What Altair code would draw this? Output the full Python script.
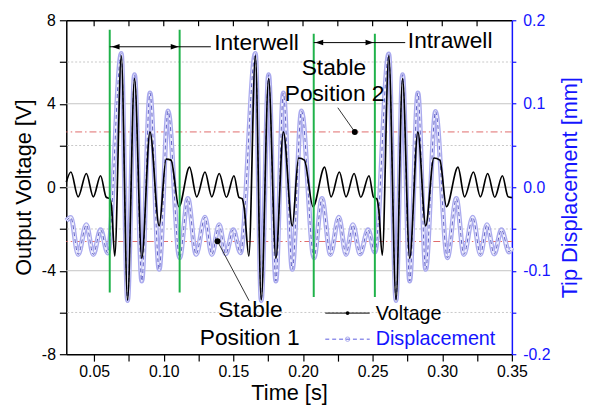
import altair as alt
import pandas as pd

# ---------------- data ----------------
time_ticks = [0.05, 0.075, 0.10, 0.125, 0.15, 0.175, 0.20, 0.225, 0.25, 0.275, 0.30, 0.325, 0.35]
volt_ticks = [-8, -6, -4, -2, 0, 2, 4, 6, 8]
disp_ticks = [-0.2, -0.15, -0.1, -0.05, 0.0, 0.05, 0.1, 0.15, 0.2]

# tip displacement (mm): extrema
disp_time = [0.0300, 0.0333, 0.0385, 0.0444, 0.0494, 0.0546, 0.0598,
             0.0695, 0.0740, 0.0790, 0.0842, 0.0901, 0.0967, 0.1031, 0.1114,
             0.1173, 0.1232, 0.1296, 0.1345, 0.1398, 0.1445, 0.1499, 0.1551,
             0.1658, 0.1700, 0.1753, 0.1805, 0.1859, 0.1923, 0.1989, 0.2079,
             0.2136, 0.2197, 0.2257, 0.2309, 0.2358, 0.2410, 0.2467, 0.2516,
             0.2616, 0.2668, 0.2715, 0.2766, 0.2825, 0.2881, 0.2952, 0.3037,
             0.3101, 0.3155, 0.3219, 0.3274, 0.3321, 0.3373, 0.3425, 0.3480, 0.3500]
disp_mm = [-0.0400, -0.0363, -0.0805, -0.0450, -0.0805, -0.0510, -0.0788,
           0.1603, -0.1358, 0.1348, -0.1123, 0.1130, -0.0983, 0.0913, -0.0845,
           -0.0135, -0.0805, -0.0360, -0.0805, -0.0450, -0.0800, -0.0510, -0.0785,
           0.1603, -0.1358, 0.1348, -0.1123, 0.1130, -0.0983, 0.0913, -0.0845,
           -0.0135, -0.0805, -0.0360, -0.0805, -0.0450, -0.0800, -0.0510, -0.0775,
           0.1595, -0.1358, 0.1348, -0.1123, 0.1130, -0.0983, 0.0908, -0.0845,
           -0.0135, -0.0805, -0.0360, -0.0805, -0.0450, -0.0800, -0.0510, -0.0775, -0.0725]

# output voltage (V): extrema
volt_time = [0.0300, 0.0333, 0.0385, 0.0444, 0.0494, 0.0546, 0.0587, 0.0612, 0.0626, 0.0648,
             0.0695, 0.0740, 0.0790, 0.0842, 0.0901, 0.0967, 0.1017, 0.1052, 0.1109,
             0.1185, 0.1237, 0.1296, 0.1345, 0.1398, 0.1450, 0.1504, 0.1540, 0.1563, 0.1578, 0.1611,
             0.1658, 0.1700, 0.1753, 0.1805, 0.1859, 0.1923, 0.1968, 0.2010, 0.2072,
             0.2155, 0.2202, 0.2261, 0.2309, 0.2367, 0.2415, 0.2474, 0.2507, 0.2529, 0.2543, 0.2569,
             0.2616, 0.2668, 0.2715, 0.2766, 0.2825, 0.2881, 0.2940, 0.2983, 0.3030,
             0.3113, 0.3160, 0.3224, 0.3274, 0.3326, 0.3377, 0.3432, 0.3472, 0.3500]
volt_v = [0.25, 0.73, -0.46, 0.66, -0.46, 0.55, -0.48, -0.55, -1.00, -3.30,
          6.30, -5.40, 5.20, -3.40, 2.65, -1.85, 1.35, 1.30, -0.93,
          0.96, -0.46, 0.73, -0.46, 0.66, -0.48, 0.55, -0.48, -0.55, -1.00, -3.30,
          6.30, -5.40, 5.20, -3.40, 2.65, -1.85, 1.40, 1.30, -0.93,
          0.96, -0.46, 0.73, -0.46, 0.66, -0.48, 0.55, -0.48, -0.55, -1.00, -3.25,
          6.30, -5.40, 5.20, -3.40, 2.65, -1.85, 1.40, 1.30, -0.93,
          0.96, -0.46, 0.73, -0.46, 0.66, -0.48, 0.55, -0.45, -0.50]

grid_major = [-4, 0, 4]
grid_minor = [-6, -2, 2, 6]
stable_levels = [2.65, -2.6]

green_time = [0.0612, 0.1114, 0.2077, 0.2516]
green_top = [7.55, 7.55, 7.36, 7.36]
green_bottom = [-5.04, -5.04, -5.26, -5.26]

arrow_start = [0.0612, 0.2077]
arrow_end = [0.1338, 0.2734]
arrow_level = [6.73, 6.93]
arrow_left_tip = [0.0626, 0.2088]
arrow_right_tip = [0.1107, 0.2506]

region_text = ["Interwell", "Intrawell"]
region_time = [0.1362, 0.2753]
region_level = [6.57, 6.68]

stable_text = ["Stable", "Position 2", "Stable", "Position 1"]
stable_time = [0.2222, 0.2227, 0.1622, 0.1617]
stable_level = [5.39, 4.12, -6.22, -7.54]

pointer_from_time = [0.2250, 0.1613]
pointer_from_level = [3.81, -5.44]
pointer_to_time = [0.2372, 0.1386]
pointer_to_level = [2.65, -2.59]

legend_names = ["Voltage", "Displacement"]
legend_line_start = [0.2160, 0.2160]
legend_line_end = [0.2479, 0.2479]
legend_mid = [0.2320, 0.2320]
legend_level = [-6.03, -7.28]
legend_text_time = [0.2522, 0.2522]
legend_text_level = [-6.34, -7.57]

# ---------------- chart ----------------
FONT = "Liberation Sans"
BLUE = "#1414ff"
XS = alt.Scale(domain=[0.03, 0.35], nice=False, zero=False)
VS = alt.Scale(domain=[-8, 8], nice=False, zero=False)
DS = alt.Scale(domain=[-0.2, 0.2], nice=False, zero=False)

volt = pd.DataFrame({"t": volt_time, "v": volt_v})
disp = pd.DataFrame({"t": disp_time, "d": disp_mm})


def X(field, axis=None):
    return alt.X(field, type="quantitative", scale=XS, axis=axis)


def Y(field, axis=None):
    return alt.Y(field, type="quantitative", scale=VS, axis=axis)


grid_maj = alt.Chart(pd.DataFrame({"v": grid_major})).mark_rule(
    color="#c4c4c4", strokeWidth=1).encode(y=Y("v"))
grid_min = alt.Chart(pd.DataFrame({"v": grid_minor})).mark_rule(
    color="#c8c8c8", strokeWidth=1, strokeDash=[2, 2]).encode(y=Y("v"))
stable_rules = alt.Chart(pd.DataFrame({"v": stable_levels})).mark_rule(
    color="#e06a6a", strokeWidth=1, strokeDash=[7, 3, 1.5, 3]).encode(y=Y("v"))

right_axis = alt.Axis(orient="right", values=disp_ticks,
                      labelExpr="abs(round(datum.value*100)) % 10 === 0 ? (datum.value < -0.001 ? '-' : '') + format(abs(datum.value), '.1f') : ''",
                      tickSize=4, tickWidth=1.2, tickColor=BLUE, domainColor=BLUE, domainWidth=1.5,
                      labelColor=BLUE, labelFontSize=16, labelPadding=7, labelOverlap=False,
                      title="Tip Displacement [mm]", titleColor=BLUE, titleFontSize=22,
                      titleFontWeight="normal", titleAngle=270, titleBaseline="top", titlePadding=10,
                      grid=False)

disp_band = alt.Chart(disp).mark_line(color="#aaaaee", strokeWidth=5, interpolate="monotone").encode(
    x=X("t"), y=alt.Y("d", type="quantitative", scale=DS, axis=right_axis))
disp_inner = alt.Chart(disp).mark_line(color="#f0f0fd", strokeWidth=2.4, interpolate="monotone").encode(
    x=X("t"), y=alt.Y("d", type="quantitative", scale=DS, axis=None))
disp_dash = alt.Chart(disp).mark_line(color="#3a3ab4", strokeWidth=0.8, strokeDash=[4, 3],
                                      interpolate="monotone").encode(
    x=X("t"), y=alt.Y("d", type="quantitative", scale=DS, axis=None))

bottom_axis = alt.Axis(orient="bottom", values=time_ticks,
                       labelExpr="round(datum.value * 1000) % 50 === 0 ? format(datum.value, '.2f') : ''",
                       tickSize=7, tickWidth=1.2, tickColor="black", domainColor="black", domainWidth=1.5,
                       labelColor="black", labelFontSize=16, labelPadding=3, labelFlush=False,
                       labelOverlap=False, title="Time [s]", titleColor="black", titleFontSize=22,
                       titleFontWeight="normal", titlePadding=3, grid=False)
left_axis = alt.Axis(orient="left", values=volt_ticks,
                     labelExpr="datum.value % 4 === 0 ? (datum.value < 0 ? '-' : '') + format(abs(datum.value), 'd') : ''",
                     tickSize=7, tickWidth=1.2, tickColor="black", domainColor="black", domainWidth=1.5,
                     labelColor="black", labelFontSize=16, labelPadding=4, labelOverlap=False,
                     title="Output Voltage [V]", titleColor="black", titleFontSize=22,
                     titleFontWeight="normal", titlePadding=6, grid=False)

volt_line = alt.Chart(volt).mark_line(color="black", strokeWidth=1.7, interpolate="monotone").encode(
    x=X("t", bottom_axis), y=Y("v", left_axis))

top_ticks = alt.Chart(pd.DataFrame({"t": time_ticks[:-1]})).mark_rule(
    color="black", strokeWidth=1.2).encode(
    x=X("t", alt.Axis(orient="top", labels=False, ticks=False, domainColor="black",
                      domainWidth=1.5, title=None, grid=False)),
    y=alt.value(0), y2=alt.value(6))

green = alt.Chart(pd.DataFrame({"t": green_time, "top": green_top, "bot": green_bottom})).mark_rule(
    color="#1fb24a", strokeWidth=2).encode(x=X("t"), y=Y("top"), y2="bot")

arrows = pd.DataFrame({"s": arrow_start, "e": arrow_end, "v": arrow_level,
                       "lt": arrow_left_tip, "rt": arrow_right_tip})
arrow_lines = alt.Chart(arrows).mark_rule(color="black", strokeWidth=1).encode(
    x=X("s"), x2="e", y=Y("v"))
arrow_left = alt.Chart(arrows).mark_point(
    shape="M0,0 L2,-0.7 L2,0.7 Z", filled=True, color="black", size=64, opacity=1, strokeWidth=0).encode(
    x=X("lt"), y=Y("v"))
arrow_right = alt.Chart(arrows).mark_point(
    shape="M0,0 L-2,-0.7 L-2,0.7 Z", filled=True, color="black", size=64, opacity=1, strokeWidth=0).encode(
    x=X("rt"), y=Y("v"))

region_labels = alt.Chart(pd.DataFrame({"txt": region_text, "t": region_time, "v": region_level})).mark_text(
    align="left", baseline="alphabetic", fontSize=23, font=FONT, color="black").encode(
    x=X("t"), y=Y("v"), text="txt")

stable_labels = alt.Chart(pd.DataFrame({"txt": stable_text, "t": stable_time, "v": stable_level})).mark_text(
    align="center", baseline="alphabetic", fontSize=23, font=FONT, color="black").encode(
    x=X("t"), y=Y("v"), text="txt")

pointers = pd.DataFrame({"ft": pointer_from_time, "fv": pointer_from_level,
                         "tt": pointer_to_time, "tv": pointer_to_level})
pointer_lines = alt.Chart(pointers).mark_rule(color="#333333", strokeWidth=1).encode(
    x=X("ft"), y=Y("fv"), x2="tt", y2="tv")
pointer_dots = alt.Chart(pointers).mark_point(
    shape="circle", filled=True, color="black", size=36, opacity=1).encode(x=X("tt"), y=Y("tv"))

leg = pd.DataFrame({"name": legend_names, "s": legend_line_start, "e": legend_line_end,
                    "m": legend_mid, "v": legend_level, "tt": legend_text_time, "tv": legend_text_level})
leg_v = leg.iloc[[0]]
leg_d = leg.iloc[[1]]
leg_v_line = alt.Chart(leg_v).mark_rule(color="black", strokeWidth=1).encode(x=X("s"), x2="e", y=Y("v"))
leg_v_dot = alt.Chart(leg_v).mark_point(shape="circle", filled=True, color="black", size=14,
                                        opacity=1).encode(x=X("m"), y=Y("v"))
leg_d_line = alt.Chart(leg_d).mark_rule(color="#5a5ae0", strokeWidth=1, strokeDash=[4, 3]).encode(
    x=X("s"), x2="e", y=Y("v"))
leg_d_dot = alt.Chart(leg_d).mark_point(shape="circle", filled=False, color="#8a8ae8", size=20,
                                        strokeWidth=1).encode(x=X("m"), y=Y("v"))
leg_text = alt.Chart(leg).mark_text(align="left", baseline="alphabetic", fontSize=20, font=FONT).encode(
    x=X("tt"), y=Y("tv"), text="name",
    color=alt.Color("name:N", scale=alt.Scale(domain=legend_names, range=["black", BLUE]), legend=None))

chart = alt.layer(
    grid_min, grid_maj, stable_rules,
    disp_band, disp_inner, disp_dash,
    volt_line,
    top_ticks, green,
    arrow_lines, arrow_left, arrow_right,
    region_labels, stable_labels, pointer_lines, pointer_dots,
    leg_v_line, leg_v_dot, leg_d_line, leg_d_dot, leg_text,
).resolve_scale(y="independent").resolve_axis(x="independent", y="independent").properties(
    width=451, height=338,
    autosize=alt.AutoSizeParams(type="none"),
    padding={"left": 59, "top": 10, "right": 73, "bottom": 50},
    background="white",
).configure(font=FONT).configure_view(stroke=None)

chart.save("out.html", embed_options={"renderer": "svg", "actions": False})
